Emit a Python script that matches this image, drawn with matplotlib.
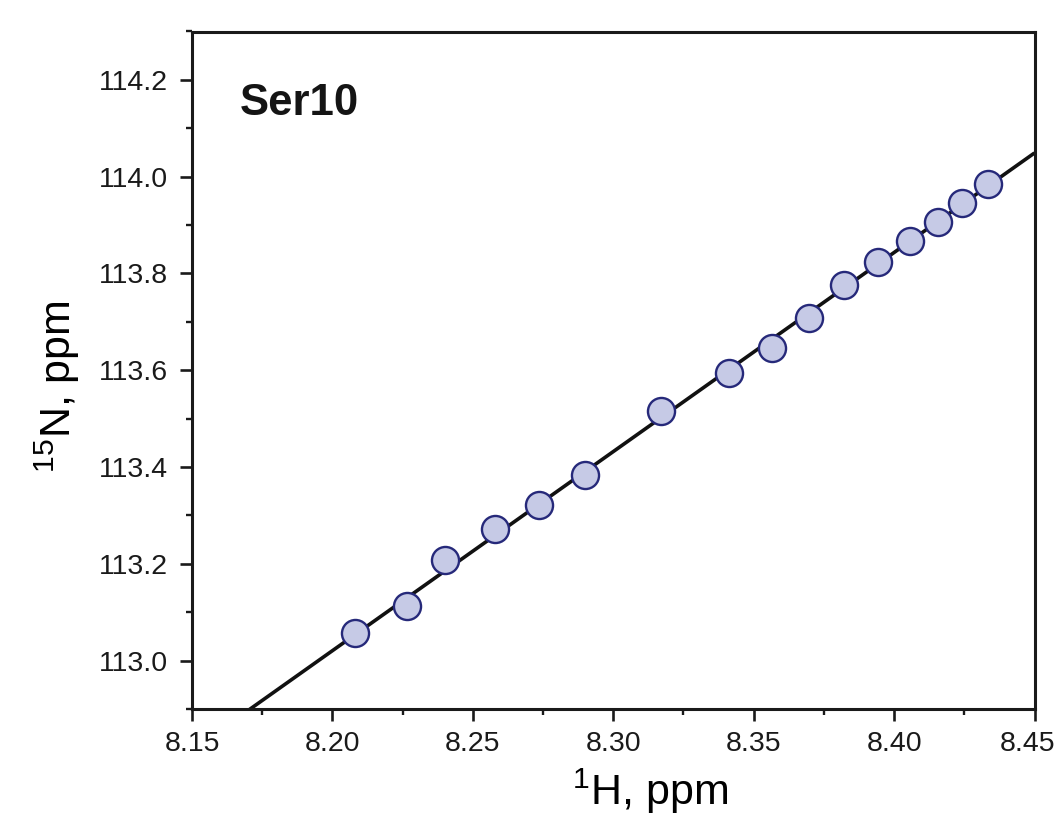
import numpy as np
import matplotlib
matplotlib.use("Agg")
import matplotlib.pyplot as plt
from matplotlib.ticker import MultipleLocator, FormatStrFormatter
from matplotlib.transforms import ScaledTranslation

# ---- data ----
h_ppm = [8.2080, 8.2267, 8.2400, 8.2580, 8.2737, 8.2901, 8.3169, 8.3413,
         8.3566, 8.3696, 8.3821, 8.3943, 8.4055, 8.4156, 8.4243, 8.4334]
n_ppm = [113.058, 113.113, 113.208, 113.271, 113.322, 113.383, 113.516, 113.595,
         113.645, 113.709, 113.777, 113.824, 113.868, 113.907, 113.946, 113.984]
fit_slope = 4.114
fit_intercept = 79.2857
x_range = (8.15, 8.45)
y_range = (112.9, 114.3)
x_ticks = [8.15, 8.20, 8.25, 8.30, 8.35, 8.40, 8.45]
y_ticks = [113.0, 113.2, 113.4, 113.6, 113.8, 114.0, 114.2]
panel_label = "Ser10"

# ---- style ----
plt.rcParams['font.family'] = ['Liberation Sans', 'DejaVu Sans']
plt.rcParams['mathtext.fontset'] = 'custom'
plt.rcParams['mathtext.rm'] = 'Liberation Sans'
plt.rcParams['mathtext.it'] = 'Liberation Sans:italic'
plt.rcParams['mathtext.bf'] = 'Liberation Sans:bold'

fig = plt.figure(figsize=(10.6, 8.14), dpi=100)
ax = fig.add_axes([192/1060, 1 - 709/814, (1034.5 - 192)/1060, (709 - 31.5)/814])

ax.set_xlim(*x_range)
ax.set_ylim(*y_range)

# fit line over the full x-range
lx = np.array(x_range)
ax.plot(lx, fit_slope * lx + fit_intercept, color='#111111', lw=2.6, zorder=2,
        solid_capstyle='butt')

# data points
ax.plot(h_ppm, n_ppm, linestyle='none', marker='o', ms=19.5,
        markerfacecolor='#c6cae6', markeredgecolor='#26297a', mew=1.7, zorder=3)

# axes styling
for s in ax.spines.values():
    s.set_linewidth(2.2)
    s.set_color('#1a1a1a')

ax.set_xticks(x_ticks)
ax.set_yticks(y_ticks)
ax.xaxis.set_minor_locator(MultipleLocator(0.025))
ax.yaxis.set_minor_locator(MultipleLocator(0.1))
ax.xaxis.set_major_formatter(FormatStrFormatter('%.2f'))
ax.yaxis.set_major_formatter(FormatStrFormatter('%.1f'))
ax.tick_params(axis='both', which='major', direction='out', length=8.6, width=1.9,
               labelsize=20.5, colors='#1a1a1a', top=False, right=False)
ax.tick_params(axis='both', which='minor', direction='out', length=4.0, width=1.7,
               top=False, right=False, colors='#1a1a1a')
ax.tick_params(axis='x', which='major', pad=7)
ax.tick_params(axis='y', which='major', pad=9)

# nudge the last x tick label slightly left so it stays inside the figure
last_tick = ax.xaxis.get_major_ticks()[-1]
last_tick.label1.set_transform(last_tick.label1.get_transform()
                               + ScaledTranslation(-5/72, 0, fig.dpi_scale_trans))

ax.set_xlabel(r'$^{1}$H, ppm', fontsize=31, va='baseline')
ax.xaxis.set_label_coords((650 - 192) / 842.5, (709 - 805) / 677.5)
ax.set_ylabel(r'$^{15}$N, ppm', fontsize=31)
ax.yaxis.set_label_coords((82 - 192) / 842.5, 1 - (386.5 - 31.5) / 677.5)

ax.text((240 - 192) / 842.5, 1 - (115 - 31.5) / 677.5, panel_label,
        transform=ax.transAxes, fontsize=31.5, fontweight='bold',
        color='#141414', va='baseline', ha='left')

fig.savefig('out.png', dpi=100)
